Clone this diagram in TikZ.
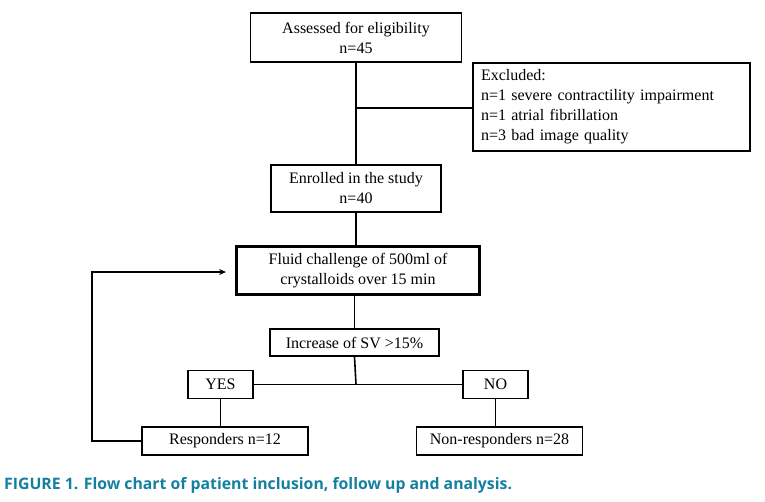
\documentclass[tikz,border=0pt]{standalone}
\usepackage{fontspec}
\setmainfont{Liberation Serif}
\newfontfamily\capfont{Open Sans}
\usetikzlibrary{arrows.meta}
\definecolor{capteal}{RGB}{20,128,160}
\tikzset{
  box/.style={draw=black, line width=1.6pt, rectangle, inner sep=0pt, align=center,
    font=\fontsize{16}{20}\selectfont},
  thickbox/.style={box, line width=2.6pt},
  conn/.style={draw=black, line width=1.6pt},
  thinconn/.style={draw=black, line width=1.2pt},
}
\begin{document}
\begin{tikzpicture}[x=1pt,y=-1pt]
\useasboundingbox (0,0) rectangle (765,501);
\node[box, minimum width=211pt, minimum height=49pt] (assess) at (356,37.5) {Assessed for eligibility\\n=45};
\node[box, minimum width=277pt, minimum height=88pt, align=left, text width=261pt] (excl) at (611.5,107)
  {Excluded:\\n=1 severe contractility impairment\\n=1 atrial fibrillation\\n=3 bad image quality};
\node[box, minimum width=170pt, minimum height=47pt] (enrol) at (356,188.5) {Enrolled in the study\\n=40};
\node[thickbox, minimum width=243pt, minimum height=48pt] (fluid) at (358,270.5) {Fluid challenge of 500ml of\\crystalloids over 15 min};
\node[box, minimum width=169pt, minimum height=27pt] (incr) at (354.5,342.5) {Increase of SV \textgreater15\%};
\node[box, minimum width=65pt, minimum height=28pt] (yes) at (220.5,384.5) {YES};
\node[box, minimum width=65pt, minimum height=28pt] (no) at (495.5,384.5) {NO};
\node[box, minimum width=166pt, minimum height=28pt] (resp) at (225,441) {Responders n=12};
\node[box, minimum width=166pt, minimum height=28pt] (nonresp) at (499.5,441) {Non-responders n=28};

\coordinate (jx) at (356,108);
\coordinate (jy) at (356,384.5);
\coordinate (fbx) at (92,441);
\coordinate (tip) at (226,272);

\draw[conn] (assess.south) -- (enrol.north);
\draw[conn] (jx) -- (jx -| excl.west);
\draw[conn] (enrol.south) -- (enrol.south |- fluid.north);
\draw[conn] (fluid.south -| incr.north) -- (incr.north);
\draw[conn] (incr.south) -- (jy);
\draw[thinconn] (yes.east) -- (no.west);
\draw[conn] (yes.south) -- (yes.south |- resp.north);
\draw[thinconn] (no.south) -- (no.south |- nonresp.north);
\draw[thinconn, -{Stealth[length=7pt,width=6pt]}] (resp.west) -- (fbx) |- (tip);

\node[anchor=base west, inner sep=0pt, text=capteal, font=\capfont\bfseries\fontsize{15.8}{18}\selectfont] (cap) at (4,489)
  {FIGURE 1. Flow chart of patient inclusion, follow up and analysis.};
\end{tikzpicture}
\end{document}
